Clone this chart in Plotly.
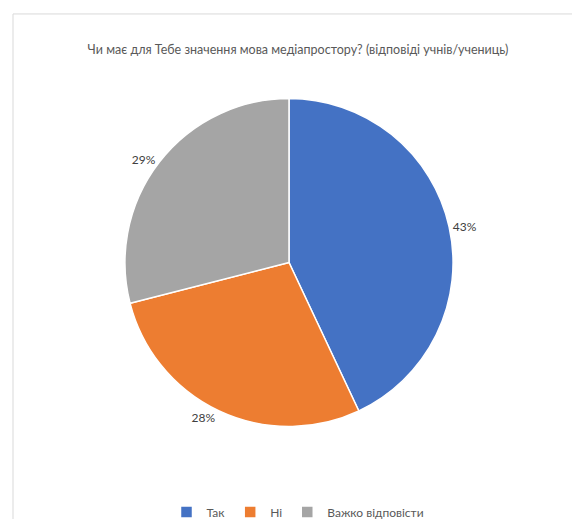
import plotly.graph_objects as go

labels = ["Так", "Ні", "Важко відповісти"]
values = [43, 28, 29]
colors = ["#4472C4", "#ED7D31", "#A5A5A5"]

title = "Чи має для Тебе значення мова медіапростору? (відповіді учнів/учениць)"
font_family = "Lato, Liberation Sans, sans-serif"

fig = go.Figure(
    data=[
        go.Pie(
            labels=labels,
            values=values,
            sort=False,
            direction="clockwise",
            rotation=0,
            marker=dict(colors=colors, line=dict(color="white", width=1.5)),
            textinfo="percent",
            texttemplate="%{percent:.0%}",
            textposition="outside",
            textfont=dict(size=12, color="#404040", family=font_family),
            domain=dict(x=[116 / 580, 446 / 580], y=[98 / 519, 428 / 519]),
            hoverinfo="label+percent",
        )
    ]
)

fig.update_layout(
    width=580,
    height=519,
    paper_bgcolor="white",
    plot_bgcolor="white",
    margin=dict(l=0, r=0, t=0, b=0),
    title=dict(
        text=title,
        x=0.5,
        xanchor="center",
        y=1 - 42 / 519,
        yanchor="middle",
        font=dict(size=12.5, color="#595959", family=font_family),
    ),
    showlegend=True,
    legend=dict(
        orientation="h",
        x=0.5,
        xanchor="center",
        y=1 - 507 / 519,
        yanchor="middle",
        font=dict(size=12, color="#595959", family=font_family),
        itemwidth=30,
    ),
    shapes=[
        dict(
            type="rect",
            xref="paper",
            yref="paper",
            x0=5 / 580,
            x1=1.1,
            y0=-0.1,
            y1=1 - 6 / 519,
            line=dict(color="#D9D9D9", width=1),
        )
    ],
)

fig.write_html("out.html")
